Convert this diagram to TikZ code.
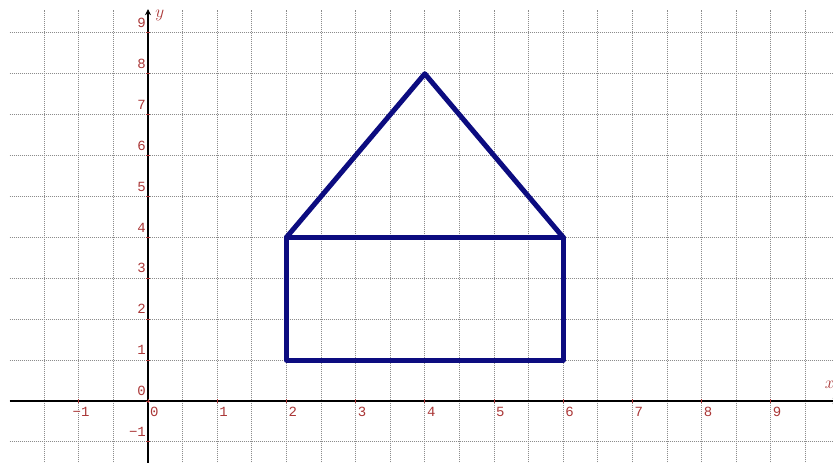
\documentclass[tikz,border=0pt]{standalone}
\usepackage{fontspec}
\usetikzlibrary{arrows.meta}
\newfontfamily\ticksfont{Liberation Mono}
\definecolor{tickred}{RGB}{170,55,55}
\definecolor{housenavy}{RGB}{12,12,128}
\tikzset{
  gridline/.style={gray!90, line width=0.8pt, dash pattern=on 1pt off 1pt},
  axisline/.style={black, line width=1.1pt},
  tickmark/.style={tickred, line width=0.9pt},
  ticklabel/.style={text=tickred, font=\ticksfont\fontsize{14}{14}\selectfont, inner sep=0pt},
  axislabel/.style={text=tickred, font=\fontsize{17}{17}\selectfont, inner sep=0pt}
  ,houseline/.style={housenavy, line width=5pt, line join=round, line cap=round}
}
\begin{document}
\begin{tikzpicture}[x=69.2pt, y=40.9pt]
\useasboundingbox (-2.139,-1.516) rectangle (9.899,9.804);
% grid
\foreach \gx in {-1.5,-1,...,9.5}
  \draw[gridline] (\gx,-1.6) -- (\gx,9.56);
\foreach \gy in {-1,0,...,9}
  \draw[gridline] (-2,\gy) -- (9.95,\gy);
% axes
\draw[axisline,-{Stealth[length=6pt,width=6pt]}] (-2,0) -- (9.98,0);
\draw[axisline,-{Stealth[length=6pt,width=6pt]}] (0,-1.6) -- (0,9.58);
\foreach \n in {-1,...,9} {
  \draw[tickmark] (\n,-0.04) -- (\n,0.04);
  \draw[tickmark] (-0.025,\n) -- (0.025,\n);
}
% tick labels
\foreach \n in {0,...,9} {
  \node[ticklabel, anchor=north west] (xlab\n) at ([xshift=2pt,yshift=-6pt]\n,0) {\n};
  \node[ticklabel, anchor=south east] (ylab\n) at ([xshift=-2pt,yshift=5pt]0,\n) {\n};
}
\node[ticklabel, anchor=north west] (xlabm) at ([xshift=2pt,yshift=-6pt]-1,0) {\llap{−}1};
\node[ticklabel, anchor=south east] (ylabm) at ([xshift=-2pt,yshift=5pt]0,-1) {−1};
\node[axislabel] (ylabel) at (0.17,9.43) {$y$};
\node[axislabel, anchor=west] (xlabel) at (9.78,0.4) {$x$};
% house
\draw[houseline] (2,1) rectangle (6,4);
\draw[houseline] (2,4) -- (4,8) -- (6,4);
\end{tikzpicture}
\end{document}
